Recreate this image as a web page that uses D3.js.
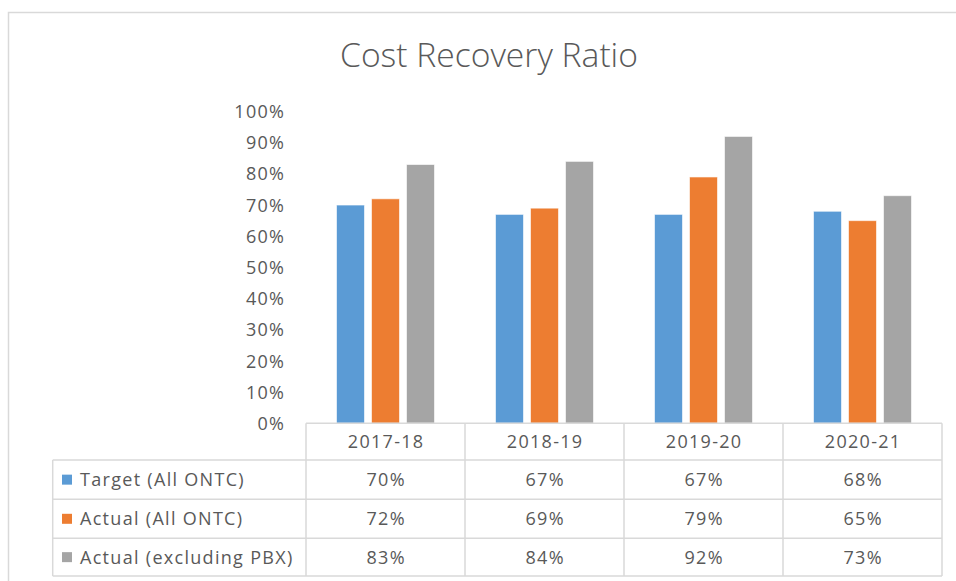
<!DOCTYPE html>
<html>
<head>
<meta charset="utf-8">
<script src="https://cdn.jsdelivr.net/npm/d3@7"></script>
<style>
  html, body { margin: 0; padding: 0; background: #fff; }
  svg { display: block; }
  text { font-family: "Open Sans", "Noto Sans", sans-serif; fill: #595959; }
</style>
</head>
<body>
<svg id="chart" width="956" height="581"></svg>
<script>
const title = "Cost Recovery Ratio";
const categories = ["2017-18", "2018-19", "2019-20", "2020-21"];
const seriesNames = ["Target (All ONTC)", "Actual (All ONTC)", "Actual (excluding PBX)"];
const target = [0.70, 0.67, 0.67, 0.68];
const actual = [0.72, 0.69, 0.79, 0.65];
const actualExPBX = [0.83, 0.84, 0.92, 0.73];
const yTicks = [0, 0.1, 0.2, 0.3, 0.4, 0.5, 0.6, 0.7, 0.8, 0.9, 1.0];
const colors = ["#5B9BD5", "#ED7D31", "#A5A5A5"];

const seriesValues = [target, actual, actualExPBX];

const svg = d3.select("#chart");
const W = 956, H = 581;

// layout
const plot = { left: 306, right: 942, top: 111.5, bottom: 423.3 };
const tableLeft = 52.7;
const rowEdges = [423.3, 460, 499.3, 538.3, 576];

// outer border
svg.append("rect")
  .attr("x", 8.5).attr("y", 12.5)
  .attr("width", W + 10).attr("height", H + 10)
  .attr("fill", "none").attr("stroke", "#d9d9d9").attr("stroke-width", 1.5);

// title
const t = svg.append("text")
  .attr("x", 489).attr("y", 67)
  .attr("text-anchor", "middle")
  .style("font-family", "'Open Sans', sans-serif")
  .style("font-weight", 300)
  .style("font-size", "30px")
  .text(title);
const tw = t.node().getComputedTextLength();
t.style("font-size", (30 * 298 / tw) + "px");

// scales
const x = d3.scaleBand().domain(categories).range([plot.left, plot.right]).padding(0);
const y = d3.scaleLinear().domain([0, 1]).range([plot.bottom, plot.top]);
const groupW = 98;
const xs = d3.scaleBand().domain(seriesNames).range([-groupW / 2, groupW / 2]).paddingInner(0.2).paddingOuter(0);

const ls = 1.3;
// y axis labels
const yAxis = d3.axisLeft(y).tickValues(yTicks).tickFormat(d3.format(".0%")).tickSize(0).tickPadding(0);
const ga = svg.append("g").attr("transform", `translate(${284 + ls},0)`).call(yAxis);
ga.select(".domain").remove();
ga.selectAll("text")
  .style("font-family", "'Open Sans', sans-serif")
  .style("font-size", "18px")
  .style("letter-spacing", ls + "px")
  .attr("fill", "#595959")
  .attr("dy", "0.34em");

// bars
seriesNames.forEach((s, i) => {
  svg.append("g").selectAll("rect")
    .data(categories.map((c, j) => ({ c, v: seriesValues[i][j] })))
    .join("rect")
    .attr("x", d => x(d.c) + x.bandwidth() / 2 + xs(s))
    .attr("width", xs.bandwidth())
    .attr("y", d => y(d.v))
    .attr("height", d => y(0) - y(d.v))
    .attr("fill", colors[i])
    .attr("stroke", "#ffffff")
    .attr("stroke-opacity", 0.6)
    .attr("stroke-width", 1);
});

// data table
const grid = svg.append("g").attr("stroke", "#d9d9d9").attr("stroke-width", 1.5).attr("fill", "none");
grid.append("line").attr("x1", plot.left).attr("x2", plot.right).attr("y1", rowEdges[0]).attr("y2", rowEdges[0]);
for (let r = 1; r < rowEdges.length; r++) {
  grid.append("line").attr("x1", tableLeft).attr("x2", plot.right).attr("y1", rowEdges[r]).attr("y2", rowEdges[r]);
}
grid.append("line").attr("x1", tableLeft).attr("x2", tableLeft).attr("y1", rowEdges[1]).attr("y2", rowEdges[4]);
const vx = categories.map(c => x(c)).concat([plot.right]);
vx.forEach(v => {
  grid.append("line").attr("x1", v).attr("x2", v).attr("y1", rowEdges[0]).attr("y2", rowEdges[4]);
});

const cellFont = "18px";
function cell(sel) {
  return sel.style("font-size", cellFont).style("letter-spacing", ls + "px");
}
// header
cell(svg.append("g").selectAll("text").data(categories).join("text")
  .attr("x", c => x(c) + x.bandwidth() / 2 + ls / 2)
  .attr("y", (rowEdges[0] + rowEdges[1]) / 2)
  .attr("dy", "0.36em")
  .attr("text-anchor", "middle")
  .text(c => c));

// rows
seriesNames.forEach((s, i) => {
  const cy = (rowEdges[i + 1] + rowEdges[i + 2]) / 2;
  svg.append("rect").attr("x", 62).attr("y", cy - 5).attr("width", 10).attr("height", 10).attr("fill", colors[i]);
  cell(svg.append("text").attr("x", 80).attr("y", cy).attr("dy", "0.36em").text(s));
  cell(svg.append("g").selectAll("text").data(categories).join("text")
    .attr("x", c => x(c) + x.bandwidth() / 2 + ls / 2)
    .attr("y", cy).attr("dy", "0.36em")
    .attr("text-anchor", "middle")
    .text((c, j) => d3.format(".0%")(seriesValues[i][j])));
});
</script>
</body>
</html>
